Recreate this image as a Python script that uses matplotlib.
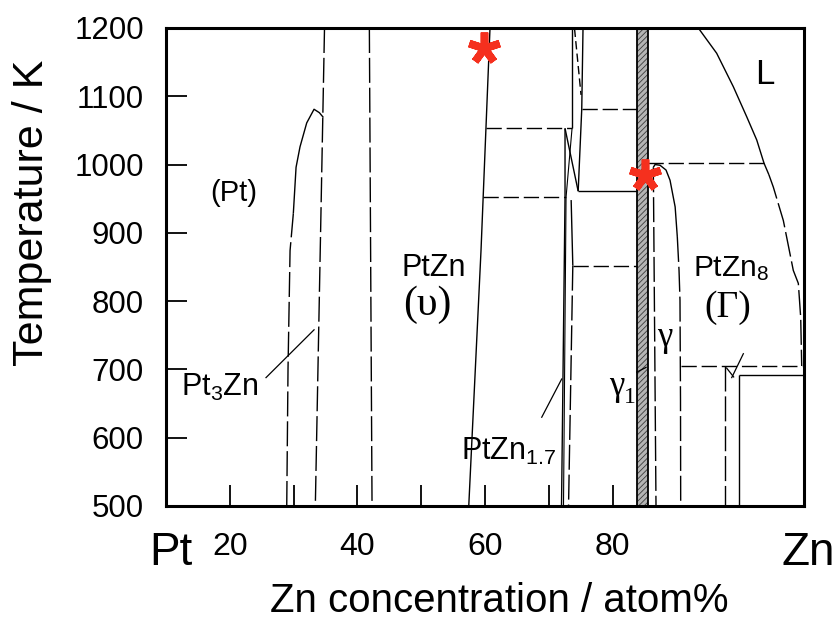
import matplotlib.pyplot as plt
from matplotlib.transforms import blended_transform_factory

plt.rcParams['font.family'] = ['Liberation Sans', 'DejaVu Sans']
plt.rcParams['mathtext.fontset'] = 'custom'
plt.rcParams['mathtext.rm'] = 'Liberation Sans'
plt.rcParams['mathtext.it'] = 'Liberation Sans'
plt.rcParams['lines.scale_dashes'] = False
plt.rcParams['hatch.linewidth'] = 0.6

# --- phase boundaries (Zn at%, K) ---
# (Pt) solvus / left edge of Pt3Zn
pt_solvus_low_x = [28.92, 29.12, 29.44, 29.95]
pt_solvus_low_t = [500, 701, 874, 928]
pt_solvus_top_x = [29.95, 30.38, 31.00, 32.05, 33.20, 34.03, 34.66]
pt_solvus_top_t = [928, 996, 1026, 1061, 1081, 1076, 1069]

pt3zn_right_x = [34.84, 33.40]
pt3zn_right_t = [1200, 500]

ptzn_left_x = [41.87, 42.29]
ptzn_left_t = [1200, 500]

ptzn_right_x = [60.78, 59.37, 57.45]
ptzn_right_t = [1200, 874, 500]

# PtZn1.7 region
ptzn17_a_x = [72.54, 72.54, 71.99]
ptzn17_a_t = [1053, 952, 500]
ptzn17_b_x = [72.70, 72.30]
ptzn17_b_t = [952, 500]
ptzn17_c_top_x = [73.50, 73.76]
ptzn17_c_top_t = [948, 852]
ptzn17_c_low_x = [73.76, 73.09]
ptzn17_c_low_t = [852, 500]

upper_l1_x = [73.64, 73.64]
upper_l1_t = [1200, 1053]
upper_l3_x = [75.36, 75.16, 74.60]
upper_l3_t = [1200, 1081, 961]
cross_a_x = [72.54, 74.60]
cross_a_t = [1053, 961]
cross_b_x = [73.64, 72.70]
cross_b_t = [1053, 952]
top_diag_x = [74.03, 75.05]
top_diag_t = [1199, 1102]

# hatched two-phase strip next to gamma1
hatch_x0, hatch_x1 = 83.87, 85.60

# gamma dome
gamma_left_x = [86.38, 86.80]
gamma_left_t = [996, 500]
gamma_top_x = [86.38, 86.65, 87.43, 88.37, 89.00, 89.80, 90.14]
gamma_top_t = [996, 1000, 999, 992, 977, 938, 894]
gamma_right_x = [90.14, 90.41, 90.56, 90.64, 90.67]
gamma_right_t = [894, 845, 801, 654, 500]

# liquidus and PtZn8 solvus
liquidus_x = [93.43, 96.31, 98.92, 101.02, 102.59, 103.73, 104.50]
liquidus_t = [1200, 1163, 1114, 1070, 1036, 1002, 985]
ptzn8_solvus_x = [104.50, 105.19, 106.76, 108.32, 109.11, 109.48, 109.64]
ptzn8_solvus_t = [985, 967, 918, 845, 826, 776, 705]

ptzn8_dash_x = [97.55, 97.55]
ptzn8_dash_t = [705, 500]
ptzn8_solid_x = [99.86, 99.86]
ptzn8_solid_t = [692, 500]

# horizontal invariant lines
tie_t = [1053, 952, 1081, 961, 852, 1002, 705, 692]
tie_x0 = [60.14, 59.71, 75.16, 74.60, 73.76, 85.60, 90.67, 99.86]
tie_x1 = [73.64, 72.70, 83.87, 83.87, 83.87, 103.73, 109.64, 110.0]
tie_dashed = [True, True, True, False, True, True, True, False]

# label leader lines
leaders_x = [(25.67, 33.20), (68.89, 72.02), (83.78, 85.24), (98.67, 100.49), (97.87, 98.97)]
leaders_t = [(688, 758), (630, 686), (696, 703), (688, 723), (702, 689)]

# reference points
star_x = [59.89, 85.08]
star_t = [1170, 984]

x_ticks = [20, 30, 40, 50, 60, 70, 80]
x_tick_labels = ['20', '', '40', '', '60', '', '80']
y_ticks = [500, 600, 700, 800, 900, 1000, 1100, 1200]

LW = 1.0
DASH = (11, 3.5)
LONG_DASH = (18, 3.5)
SERIF = ['Liberation Serif', 'DejaVu Serif']

fig = plt.figure(figsize=(8.39, 6.22), dpi=100)
ax = fig.add_axes([0.1979, 0.1865, 0.7604, 0.7685])


def solid(x, t, lw=LW):
    ax.plot(x, t, color='black', lw=lw, solid_capstyle='butt')


def dashed(x, t, dash=DASH, lw=LW):
    ax.plot(x, t, color='black', lw=lw, dashes=dash, dash_capstyle='butt')


dashed(pt_solvus_low_x, pt_solvus_low_t, LONG_DASH)
solid(pt_solvus_top_x, pt_solvus_top_t)
dashed(pt3zn_right_x, pt3zn_right_t, LONG_DASH)
dashed(ptzn_left_x, ptzn_left_t, LONG_DASH)
solid(ptzn_right_x, ptzn_right_t)

solid(ptzn17_a_x, ptzn17_a_t)
solid(ptzn17_b_x, ptzn17_b_t, lw=0.8)
solid(ptzn17_c_top_x, ptzn17_c_top_t)
dashed(ptzn17_c_low_x, ptzn17_c_low_t, LONG_DASH)
solid(upper_l1_x, upper_l1_t)
solid(upper_l3_x, upper_l3_t)
solid(cross_a_x, cross_a_t)
solid(cross_b_x, cross_b_t, lw=0.8)
dashed(top_diag_x, top_diag_t, (6, 3))

ax.fill_betweenx([500, 1200], hatch_x0, hatch_x1, facecolor='#b5b5b5',
                 edgecolor='#3a3a3a', hatch='//////', lw=0)
solid([hatch_x0, hatch_x0], [500, 1200], lw=1.3)
solid([hatch_x1, hatch_x1], [500, 1200], lw=1.3)

dashed(gamma_left_x, gamma_left_t, LONG_DASH)
solid(gamma_top_x, gamma_top_t)
dashed(gamma_right_x, gamma_right_t, LONG_DASH)

solid(liquidus_x, liquidus_t)
dashed(ptzn8_solvus_x, ptzn8_solvus_t, LONG_DASH)
dashed(ptzn8_dash_x, ptzn8_dash_t, LONG_DASH)
solid(ptzn8_solid_x, ptzn8_solid_t)

for t, x0, x1, d in zip(tie_t, tie_x0, tie_x1, tie_dashed):
    if d:
        dashed([x0, x1], [t, t])
    else:
        solid([x0, x1], [t, t])

for lx, lt in zip(leaders_x, leaders_t):
    ax.plot(lx, lt, color='black', lw=0.9)

ax.plot(star_x, star_t, ls='none', marker=(5, 2, 0), ms=23, mew=5.5,
        color='#f5301e', zorder=5)

# region labels
ax.text(16.9, 947, '(Pt)', fontsize=21, va='baseline')
ax.text(12.4, 661, 'Pt$_3$Zn', fontsize=22, va='baseline')
ax.text(46.9, 837, 'PtZn', fontsize=22, va='baseline')
ax.text(50.9, 794, '(υ)', fontsize=30, ha='center', va='center', family=SERIF)
ax.text(56.3, 568, 'PtZn$_{1.7}$', fontsize=22, va='baseline')
ax.text(92.6, 837, 'PtZn$_8$', fontsize=21.5, va='baseline')
ax.text(98.0, 791, '(Γ)', fontsize=27, ha='center', va='center', family=SERIF)
ax.text(88.2, 747, 'γ', fontsize=25, ha='center', va='center', family=SERIF)
ax.text(80.7, 675, 'γ', fontsize=25, ha='center', va='center', family=SERIF)
ax.text(82.7, 659, '1', fontsize=17, ha='center', va='center', family=SERIF)
ax.text(103.9, 1132, 'L', fontsize=25, ha='center', va='center')

# element names under the axis ends
trans = blended_transform_factory(ax.transData, fig.transFigure)
ax.text(10.8, 1 - 553 / 622, 'Pt', fontsize=33, ha='center', va='center', transform=trans)
ax.text(110.6, 1 - 553 / 622, 'Zn', fontsize=33, ha='center', va='center', transform=trans)

ax.set_xlim(10, 110)
ax.set_ylim(500, 1200)
ax.set_xticks(x_ticks)
ax.set_xticklabels(x_tick_labels)
ax.set_yticks(y_ticks)
ax.tick_params(direction='in', length=15, width=1.3, top=False, right=False)
ax.tick_params(axis='x', labelsize=23, pad=19)
ax.tick_params(axis='y', labelsize=22.5, pad=16)
for s in ax.spines.values():
    s.set_linewidth(2.2)

ax.set_xlabel('Zn concentration / atom%', fontsize=29)
ax.xaxis.set_label_coords(0.523, -0.16)
ax.set_ylabel('Temperature / K', fontsize=31)
ax.yaxis.set_label_coords(-0.178, 0.613)

fig.savefig('out.png', dpi=100)
